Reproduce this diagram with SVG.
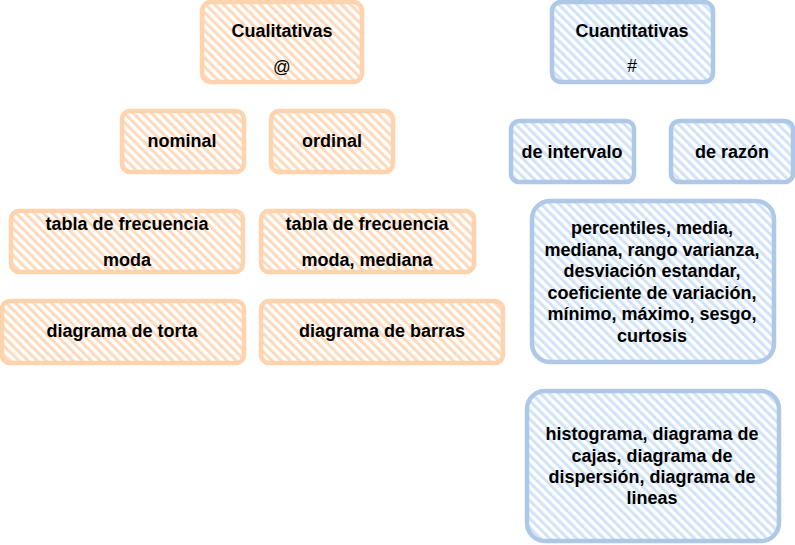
<svg xmlns="http://www.w3.org/2000/svg" width="795" height="545" viewBox="0 0 795 545">
<style>
text{font-family:"Liberation Sans",Arial,sans-serif;font-size:18px;font-weight:bold;fill:#000;text-anchor:middle}
text.n{font-weight:normal;font-size:17.5px}
.o{fill:url(#ho);stroke:#FFD3AE;stroke-width:4.5;stroke-linejoin:round}
.b{fill:url(#hb);stroke:#AFC8E8;stroke-width:4.5;stroke-linejoin:round}
</style>
<defs>
<pattern id="ho" patternUnits="userSpaceOnUse" width="6.4" height="6.4" patternTransform="rotate(-45)">
<rect width="6.4" height="6.4" fill="#fff"/>
<rect width="3" height="6.4" fill="#FFD9BA"/>
</pattern>
<pattern id="hb" patternUnits="userSpaceOnUse" width="6.4" height="6.4" patternTransform="rotate(-45)">
<rect width="6.4" height="6.4" fill="#fff"/>
<rect width="3" height="6.4" fill="#D0E3FA"/>
</pattern>
</defs>
<g id="cualitativas"><rect class="o" x="202" y="2" width="160" height="80" rx="9"/><text x="282" y="37">Cualitativas</text><text class="n" x="282" y="73">@</text></g>
<g id="cuantitativas"><rect class="b" x="552" y="2" width="161" height="80" rx="9"/><text x="632" y="37">Cuantitativas</text><text class="n" x="632" y="72">#</text></g>
<g id="nominal"><rect class="o" x="122" y="111" width="122" height="61" rx="8"/><text x="182" y="147">nominal</text></g>
<g id="ordinal"><rect class="o" x="271" y="111" width="122" height="61" rx="8"/><text x="332" y="147">ordinal</text></g>
<g id="intervalo"><rect class="b" x="511" y="121" width="123" height="61" rx="8"/><text x="572" y="158">de intervalo</text></g>
<g id="razon"><rect class="b" x="671" y="121" width="122" height="61" rx="8"/><text x="732" y="158">de razón</text></g>
<g id="tabla1"><rect class="o" x="11" y="211" width="232" height="61" rx="8"/><text x="127" y="230">tabla de frecuencia</text><text x="127" y="266">moda</text></g>
<g id="tabla2"><rect class="o" x="261" y="211" width="213" height="61" rx="8"/><text x="367" y="230">tabla de frecuencia</text><text x="367" y="266">moda, mediana</text></g>
<g id="torta"><rect class="o" x="2" y="301" width="242" height="62" rx="8"/><text x="122" y="337">diagrama de torta</text></g>
<g id="barras"><rect class="o" x="261" y="301" width="242" height="62" rx="8"/><text x="382" y="337">diagrama de barras</text></g>
<g id="medidas"><rect class="b" x="532" y="201" width="242" height="161" rx="18"/>
<text x="652" y="234">percentiles, media,</text>
<text x="652" y="255.5">mediana, rango varianza,</text>
<text x="652" y="277">desviación estandar,</text>
<text x="652" y="298.5">coeficiente de variación,</text>
<text x="652" y="320">mínimo, máximo, sesgo,</text>
<text x="652" y="341.5">curtosis</text></g>
<g id="graficos"><rect class="b" x="527" y="391" width="252" height="150" rx="18"/>
<text x="652" y="440">histograma, diagrama de</text>
<text x="652" y="461.5">cajas, diagrama de</text>
<text x="652" y="483">dispersión, diagrama de</text>
<text x="652" y="504">lineas</text></g>
<g id="connectors"></g>
</svg>
